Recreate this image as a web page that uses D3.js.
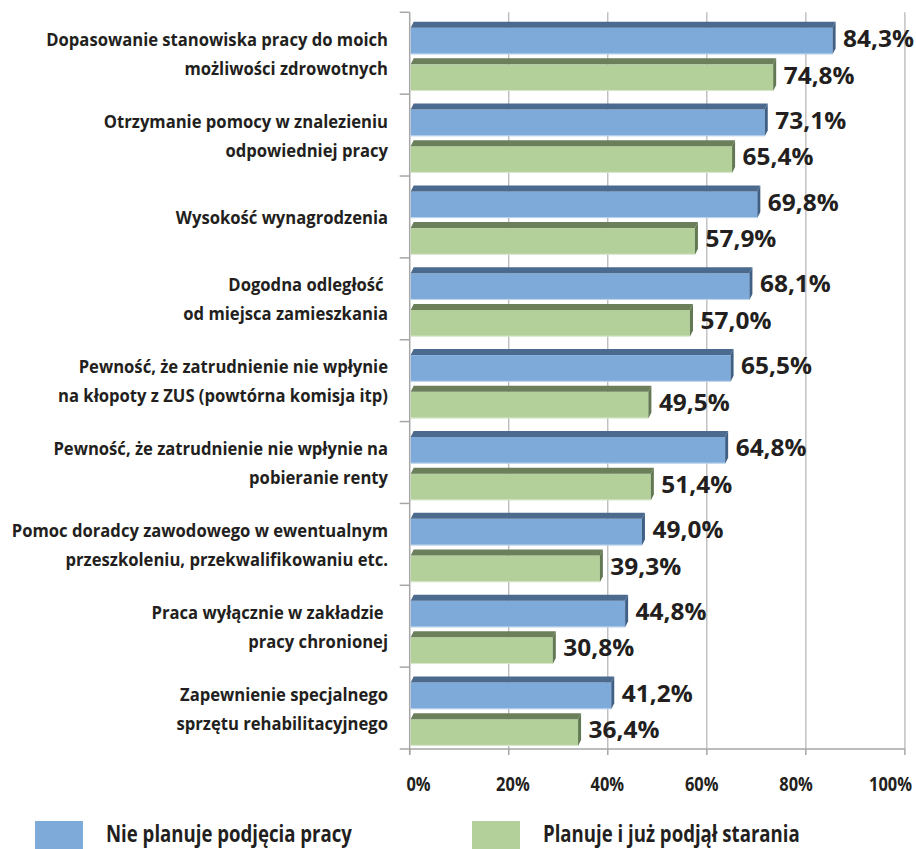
<!DOCTYPE html>
<html>
<head>
<meta charset="utf-8">
<script src="https://cdn.jsdelivr.net/npm/d3@7"></script>
<style>
  html, body { margin: 0; padding: 0; background: #ffffff; }
  svg { display: block; }
  .cat { font-family: "Open Sans", "Noto Sans", sans-serif; font-weight: 700; fill: #231f20; }
  .val { font-family: "Open Sans", "Noto Sans", sans-serif; font-weight: 700; fill: #231f20; }
</style>
</head>
<body>
<svg id="chart" width="916" height="849"></svg>
<script>
// ---------- data ----------
const categories = [
  ["Dopasowanie stanowiska pracy do moich", "możliwości zdrowotnych"],
  ["Otrzymanie pomocy w znalezieniu", "odpowiedniej pracy"],
  ["Wysokość wynagrodzenia"],
  ["Dogodna odległość ", "od miejsca zamieszkania"],
  ["Pewność, że zatrudnienie nie wpłynie", "na kłopoty z ZUS (powtórna komisja itp)"],
  ["Pewność, że zatrudnienie nie wpłynie na", "pobieranie renty"],
  ["Pomoc doradcy zawodowego w ewentualnym", "przeszkoleniu, przekwalifikowaniu etc."],
  ["Praca wyłącznie w zakładzie ", "pracy chronionej"],
  ["Zapewnienie specjalnego", "sprzętu rehabilitacyjnego"]
];
const seriesNames = ["Nie planuje podjęcia pracy", "Planuje i już podjął starania"];
// printed data labels
const nieLabels  = [84.3, 73.1, 69.8, 68.1, 65.5, 64.8, 49.0, 44.8, 41.2];
const planLabels = [74.8, 65.4, 57.9, 57.0, 49.5, 51.4, 39.3, 30.8, 36.4];
// bar lengths as drawn in the picture (%)
const nieBars  = [85.4, 71.7, 70.2, 68.6, 64.8, 63.7, 46.9, 43.5, 40.7];
const planBars = [73.4, 65.1, 57.6, 56.6, 48.2, 48.7, 38.4, 28.9, 34.0];
const tickValues = [0, 20, 40, 60, 80, 100];

// ---------- styling ----------
const colors = {
  front: ["#7eaad9", "#b3d09b"],
  top:   ["#4b6a8d", "#6b7f5b"],
  side:  ["#3f5f85", "#627852"]
};
const depthX = 3, depthY = 6;

const svg = d3.select("#chart");

function measure(cls, size, str) {
  const t = svg.append("text").attr("class", cls).style("font-size", size + "px").text(str);
  const w = t.node().getComputedTextLength();
  t.remove();
  return w;
}
const catSize = 18.5, tickSize = 19, valSize = 23, legSize = 23.5;
const catSX = 342 / measure("cat", catSize, "Dopasowanie stanowiska pracy do moich");
const tickSX = 43 / measure("cat", tickSize, "100%");
const valSX = 71 / measure("val", valSize, "84,3%");
const legSX = 246 / measure("cat", legSize, "Nie planuje podjęcia pracy");

const x = d3.scaleLinear().domain([0, 100]).range([409.7, 904.9]);
const xLabel = d3.scaleLinear().domain([0, 100]).range([418, 890]);
const idx = categories.map((d, i) => i);
const y = d3.scaleBand().domain(idx).range([12.3, 749]);
const bw = y.bandwidth();
const ySub = d3.scaleBand().domain([0, 1])
  .range([bw * 0.188, bw * 0.962]).paddingInner(0.273);

const rows = idx.map(i => ({
  i,
  lines: categories[i],
  bars: [
    { s: 0, v: nieBars[i], lab: nieLabels[i] },
    { s: 1, v: planBars[i], lab: planLabels[i] }
  ]
}));

// gridlines
const grid = svg.append("g");
grid.selectAll("line").data(tickValues.filter(t => t > 0)).join("line")
  .attr("x1", d => x(d)).attr("x2", d => x(d))
  .attr("y1", y.range()[0]).attr("y2", y.range()[1])
  .attr("stroke", "#b2b2b2").attr("stroke-width", 1.2);

// axes
const axisG = svg.append("g");
axisG.append("line")
  .attr("x1", x(0)).attr("x2", x(0))
  .attr("y1", y.range()[0]).attr("y2", y.range()[1] + 6)
  .attr("stroke", "#a6a6a6").attr("stroke-width", 1.5);
const bounds = idx.map(i => y(i)).concat([y.range()[1]]);
axisG.selectAll("line.ctick").data(bounds).join("line").attr("class", "ctick")
  .attr("x1", x(0) - 10).attr("x2", x(0))
  .attr("y1", d => d).attr("y2", d => d)
  .attr("stroke", "#a6a6a6").attr("stroke-width", 1.5);
axisG.append("line")
  .attr("x1", x(0)).attr("x2", x(100))
  .attr("y1", y.range()[1]).attr("y2", y.range()[1])
  .attr("stroke", "#a6a6a6").attr("stroke-width", 1.5);
axisG.selectAll("line.vtick").data(tickValues).join("line").attr("class", "vtick")
  .attr("x1", d => x(d)).attr("x2", d => x(d))
  .attr("y1", y.range()[1]).attr("y2", y.range()[1] + 6)
  .attr("stroke", "#a6a6a6").attr("stroke-width", 1.5);

// x tick labels via d3 axis
const xAxis = d3.axisBottom(xLabel).tickValues(tickValues)
  .tickFormat(d => d + "%").tickSize(0).tickPadding(0);
const xg = svg.append("g").attr("transform", `translate(0, 791)`).call(xAxis);
xg.select(".domain").remove();
xg.selectAll("text").attr("class", "cat").attr("dy", 0).attr("y", 0)
  .attr("font-family", null).attr("font-size", null)
  .style("font-size", tickSize + "px").attr("fill", "#231f20")
  .attr("transform", `scale(${tickSX},1)`);

// bars
const rowG = svg.selectAll("g.row").data(rows).join("g").attr("class", "row")
  .attr("transform", d => `translate(0, ${y(d.i)})`);

const barG = rowG.selectAll("g.bar").data(d => d.bars).join("g").attr("class", "bar");
barG.each(function(d) {
  const g = d3.select(this);
  const x0 = x(0) + 1, x1 = x(d.v);
  const yt = ySub(d.s), yb = yt + ySub.bandwidth();
  g.append("rect").attr("x", x0).attr("y", yt).attr("width", x1 - x0).attr("height", yb - yt)
    .attr("fill", colors.front[d.s]);
  g.append("polygon")
    .attr("points", [[x0, yt], [x0 + depthX, yt - depthY], [x1 + depthX, yt - depthY], [x1, yt]].join(" "))
    .attr("fill", colors.top[d.s]);
  g.append("polygon")
    .attr("points", [[x1, yt], [x1 + depthX, yt - depthY], [x1 + depthX, yb - depthY], [x1, yb]].join(" "))
    .attr("fill", colors.side[d.s]);
  g.append("line").attr("x1", x0).attr("x2", x1).attr("y1", yb - 0.5).attr("y2", yb - 0.5)
    .attr("stroke", "#ffffff").attr("stroke-opacity", 0.5);
  g.append("text").attr("class", "val")
    .attr("transform", `translate(${x1 + 10.5}, ${(yt + yb) / 2 - 2.5}) scale(${valSX},1)`)
    .attr("dy", "0.36em")
    .style("font-size", valSize + "px")
    .text(d3.format(".1f")(d.lab).replace(".", ",") + "%");
});

// category labels
rowG.each(function(d) {
  const g = d3.select(this);
  const n = d.lines.length;
  const c = bw / 2;
  g.selectAll("text.cl").data(d.lines).join("text").attr("class", "cat cl")
    .attr("transform", (t, k) => `translate(388, ${c + (k - (n - 1) / 2) * 29 + 7}) scale(${catSX},1)`)
    .attr("text-anchor", "end")
    .style("white-space", "pre")
    .style("font-size", catSize + "px")
    .text(t => t);
});

// legend
const legendX = [35, 472];
const lg = svg.selectAll("g.leg").data(seriesNames).join("g").attr("class", "leg")
  .attr("transform", (d, i) => `translate(${legendX[i]}, 821)`);
lg.append("rect").attr("x", 0).attr("y", 0).attr("width", 48).attr("height", 48)
  .attr("fill", (d, i) => colors.front[i]);
lg.append("text").attr("class", "cat")
  .attr("transform", `translate(71, 21) scale(${legSX},1)`)
  .style("font-size", legSize + "px").text(d => d);
</script>
</body>
</html>
